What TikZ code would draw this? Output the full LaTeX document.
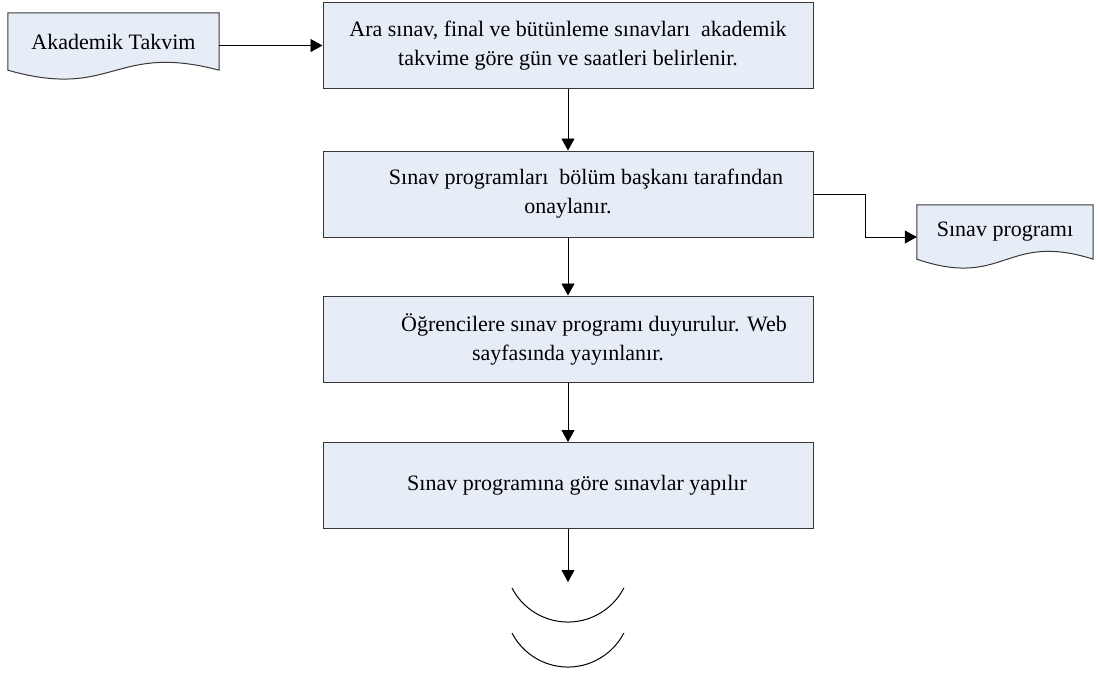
\documentclass[tikz,border=0pt]{standalone}
\usepackage{fontspec}
\setmainfont{Liberation Serif}
\usetikzlibrary{arrows.meta,calc,backgrounds}
\definecolor{boxfill}{HTML}{E6EDF7}
\definecolor{boxline}{HTML}{383838}
% document symbol: flat top, wavy bottom edge, drawn behind the named node
\newcommand\docoutline[1]{%
  \begin{pgfonlayer}{background}
    \path[wavy] (#1.north west) -- (#1.north east) -- (#1.south east)
      .. controls ($(#1.south)+(0,-28)$) and ($(#1.south)+(0,30)$) .. (#1.south west) -- cycle;
  \end{pgfonlayer}}
\begin{document}
\begin{tikzpicture}[x=1pt,y=-1pt,
  txt/.style={font=\fontsize{22}{29}\selectfont},
  procbox/.style={txt, draw=boxline, fill=boxfill, line width=1pt,
    minimum width=490pt, minimum height=86pt, inner sep=0pt, align=center},
  docnode/.style={txt, inner sep=0pt},
  flow/.style={line width=0.8pt, -{Triangle[length=12pt,width=13pt]}},
  wavy/.style={draw=boxline, fill=boxfill, line width=1pt}]
\useasboundingbox (0,0) rectangle (1099,673);

% process steps
\node[procbox] (b1) at (568,45.5)
  {Ara sınav, final ve bütünleme sınavları\ \ akademik\\takvime göre gün ve saatleri belirlenir.};
\node[procbox] (b2) at (568,194)
  {\hspace*{36pt}Sınav programları\ \ bölüm başkanı tarafından\\onaylanır.};
\node[procbox] (b3) at (568,339)
  {\hspace*{52pt}Öğrencilere sınav programı duyurulur. Web\\sayfasında yayınlanır.};
\node[procbox] (b4) at (568,485.5)
  {\hspace*{18pt}Sınav programına göre sınavlar yapılır};

% documents
\node[docnode, minimum width=211pt, minimum height=57pt] (ak) at (113.5,41.5) {Akademik Takvim};
\docoutline{ak}
\node[docnode, minimum width=176pt, minimum height=54pt] (sp) at (1005,232) {Sınav programı};
\docoutline{sp}

% connectors
\draw[flow] (ak.east |- b1.west) -- (b1.west);
\draw[flow] (b1.south) -- (b2.north);
\draw[flow] (b2.south) -- (b3.north);
\draw[flow] (b3.south) -- (b4.north);
\draw[flow] (b2.east) -- ++(52,0) |- ($(sp.west)+(0,5)$);
\coordinate (tail) at (568,582);
\draw[flow] (b4.south) -- (tail);

% closing arcs below the last step
\draw[line width=1pt] (512,588) arc[start angle=207.4, end angle=332.6, radius=63pt];
\draw[line width=1pt] (512,633) arc[start angle=207.4, end angle=332.6, radius=63pt];
\end{tikzpicture}
\end{document}
